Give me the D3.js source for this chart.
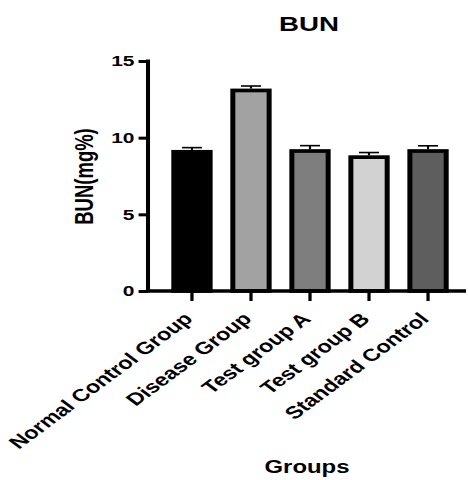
<!DOCTYPE html>
<html>
<head>
<meta charset="utf-8">
<script src="https://cdn.jsdelivr.net/npm/d3@7"></script>
<style>
  html, body { margin: 0; padding: 0; background: #fff; }
  svg text { font-family: Arial, "Liberation Sans", sans-serif; font-weight: bold; fill: #000; }
</style>
</head>
<body>
<svg id="chart" width="468" height="480"></svg>
<script>
// BUN (mg%) per treatment group, mean with SEM
const groups = ["Normal Control Group", "Disease Group", "Test group A", "Test group B", "Standard Control"];
const means = [9.2, 13.2, 9.25, 8.85, 9.25];
const errors = [0.15, 0.17, 0.23, 0.18, 0.22];
const fills = ["#000000", "#a2a2a2", "#7e7e7e", "#d2d2d2", "#5e5e5e"];
const yTicks = [0, 5, 10, 15];

// the whole figure is laid out in a narrower frame and widened horizontally
const sx = 1.35;

const svg = d3.select("#chart");
const root = svg.append("g").attr("transform", `scale(${sx},1)`);

const plotTop = 61, plotBottom = 291, axisLeft = 148 / sx;

const x = d3.scaleBand()
  .domain(groups)
  .range([axisLeft, 472 / sx])
  .paddingInner(0.3)
  .paddingOuter(0.395);

const y = d3.scaleLinear().domain([0, 15]).range([plotBottom, plotTop]);

// bars
const bw = 3.7;
root.append("g").selectAll("rect")
  .data(groups)
  .join("rect")
  .attr("x", d => x(d) + bw / 2)
  .attr("y", (d, i) => y(means[i]) + bw / 2)
  .attr("width", x.bandwidth() - bw)
  .attr("height", (d, i) => y(0) - y(means[i]) - bw / 2)
  .attr("fill", (d, i) => fills[i])
  .attr("stroke", "#000")
  .attr("stroke-width", bw);

// error bars (upper whisker only)
const eb = root.append("g").attr("stroke", "#000").attr("stroke-width", 1.6);
groups.forEach((g, i) => {
  const cx = x(g) + x.bandwidth() / 2;
  eb.append("line").attr("x1", cx).attr("x2", cx)
    .attr("y1", y(means[i])).attr("y2", y(means[i] + errors[i]));
  eb.append("line").attr("x1", cx - 7.4).attr("x2", cx + 7.4)
    .attr("y1", y(means[i] + errors[i])).attr("y2", y(means[i] + errors[i]));
});

// y axis
const yAxis = root.append("g")
  .attr("transform", `translate(${axisLeft},0)`)
  .call(d3.axisLeft(y).tickValues(yTicks).tickSize(7).tickPadding(3).tickSizeOuter(0));
yAxis.select(".domain").attr("stroke-width", 3).attr("d", `M0,${plotTop - 1.5}V${plotBottom + 1.5}`);
yAxis.selectAll(".tick line").attr("stroke-width", 3);
yAxis.selectAll(".tick text").style("font-size", "15.5px");

// x axis
const xAxis = root.append("g")
  .attr("transform", `translate(0,${plotBottom})`)
  .call(d3.axisBottom(x).tickSize(10).tickPadding(4).tickSizeOuter(0));
xAxis.select(".domain").attr("stroke-width", 3.3).attr("d", `M${axisLeft - 1.1},0H${466 / sx}`);
xAxis.selectAll(".tick line").attr("stroke-width", 2.4);
xAxis.selectAll(".tick text")
  .style("font-size", "17.4px")
  .attr("text-anchor", "end")
  .attr("x", 0).attr("y", 0).attr("dy", 0)
  .attr("transform", "translate(1.5,29) rotate(-45)");

// titles
root.append("text").attr("x", 309 / sx).attr("y", 31)
  .attr("text-anchor", "middle").style("font-size", "20.5px").text("BUN");

root.append("text")
  .attr("transform", `translate(${93 / sx},176.5) rotate(-90)`)
  .attr("text-anchor", "middle").style("font-size", "18.5px").text("BUN(mg%)");

root.append("text").attr("x", 307 / sx).attr("y", 473)
  .attr("text-anchor", "middle").style("font-size", "17.7px").text("Groups");
</script>
</body>
</html>
